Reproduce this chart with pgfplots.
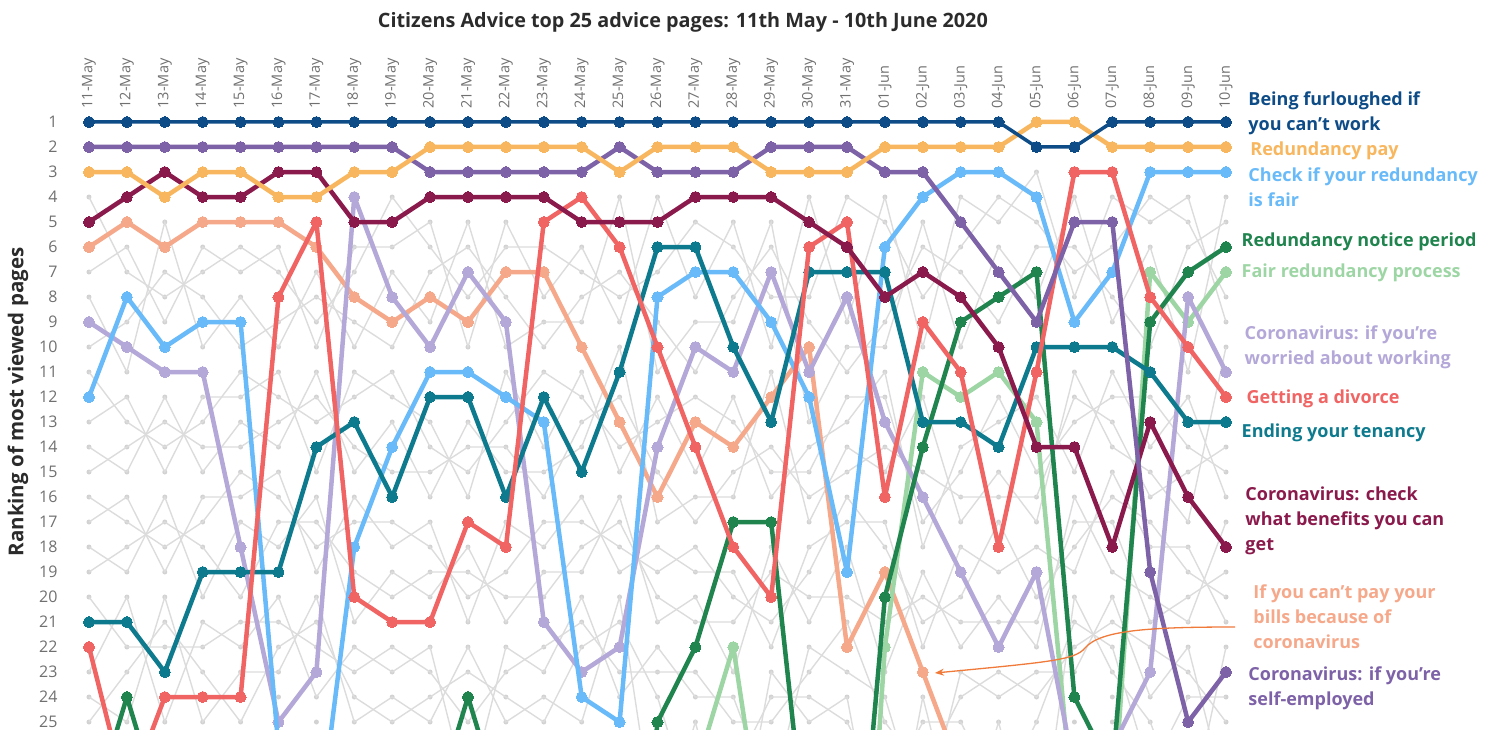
\documentclass[border=0pt]{standalone}
\usepackage{fontspec}
\setmainfont{Open Sans}
\usepackage{pgfplots}
\pgfplotsset{compat=1.18}
\usepackage{pgfplotstable}
\usetikzlibrary{arrows.meta}

\definecolor{cNavy}{HTML}{0E4C87}
\definecolor{cOrange}{HTML}{F8B65E}
\definecolor{cPurple}{HTML}{7E62A8}
\definecolor{cLBlue}{HTML}{69BAF8}
\definecolor{cLav}{HTML}{B4A8D8}
\definecolor{cRed}{HTML}{F06464}
\definecolor{cTeal}{HTML}{0E7A8E}
\definecolor{cMaroon}{HTML}{8B1A4C}
\definecolor{cDGreen}{HTML}{20844E}
\definecolor{cLGreen}{HTML}{9DD6A4}
\definecolor{cPeach}{HTML}{F6A88A}
\definecolor{cArrow}{HTML}{F07A3A}
\definecolor{cGrayLine}{HTML}{DCDCDC}
\definecolor{cGrayDot}{HTML}{D2D2D2}
\definecolor{cTick}{HTML}{707070}
\definecolor{cTitle}{HTML}{2B2B2B}

% d = day index (0 = 11 May ... 30 = 10 Jun); values = rank (>25 = outside the top 25)
% A furloughed, B redundancy pay, C self-employed, D check redundancy fair,
% E worried about working, F divorce, G ending tenancy, H benefits,
% I notice period, J fair redundancy process, K can't pay bills
\pgfplotstableread{
d  A  B  C  D  E  F  G  H  I  J  K
0  1  3  2 12  9 22 21  5 29 40  6
1  1  3  2  8 10 28 21  4 24 40  5
2  1  4  2 10 11 24 23  3 29 40  6
3  1  3  2  9 11 24 19  4 40 40  5
4  1  3  2  9 18 24 19  4 40 40  5
5  1  4  2 26 25  8 19  3 40 40  5
6  1  4  2 30 23  5 14  3 40 40  6
7  1  3  2 18  4 20 13  5 40 40  8
8  1  3  2 14  8 21 16  5 40 40  9
9  1  2  3 11 10 21 12  4 29 40  8
10 1  2  3 11  7 17 12  4 24 40  9
11 1  2  3 12  9 18 16  4 29 40  7
12 1  2  3 13 21  5 12  4 40 40  7
13 1  2  3 24 23  4 15  5 40 40 10
14 1  3  2 25 22  6 11  5 40 40 13
15 1  2  3  8 14 10  6  5 25 40 16
16 1  2  3  7 10 14  6  4 22 27 13
17 1  2  3  7 11 18 10  4 17 22 14
18 1  3  2  9  7 20 13  4 17 32 12
19 1  3  2 12 11  6  7  5 31 40 10
20 1  3  2 19  8  5  7  6 37 45 22
21 1  2  3  6 13 16  7  8 20 22 19
22 1  2  3  4 16  9 13  7 14 11 23
23 1  2  5  3 19 11 13  8  9 12 27
24 1  2  7  3 22 18 14 10  8 11 40
25 2  1  9  4 19 11 10 14  7 13 40
26 2  1  5  9 27  3 10 14 24 29 40
27 1  2  5  7 26  3 10 18 27 29 40
28 1  2 19  3 23  8 11 13  9  7 40
29 1  2 25  3  8 10 13 16  7  9 40
30 1  2 23  3 11 12 13 18  6  7 40
}\mainranks

% other pages (grey background lines)
\pgfplotstableread{
d g1 g2 g3 g4 g5 g6 g7 g8 g9 g10 g11 g12 g13 g14 g15 g16
0  4  7  8 10 11 13 14 15 16 17 18 19 20 23 24 25
1  7  6 11  9 13 12 15 14 17 16 19 18 22 20 25 23
2  8  9  5  7 14 15 12 13 18 19 16 17 22 25 20 21
3  7  6 10  8 13 12 15 14 17 16 20 18 22 21 25 23
4  6  7  8 10 11 12 13 14 15 16 17 20 21 22 23 25
5  7  6 10  9 12 11 14 13 16 15 18 17 21 20 23 22
6  9 10  7  8 13 15 11 12 18 19 16 17 22 24 20 21
7  7  6 10  9 12 11 15 14 17 16 21 19 23 22 25 24
8  4  6  7 10 11 12 13 15 17 18 19 20 22 23 24 25
9  6  5  9  7 14 13 16 15 18 17 20 19 23 22 25 24
10 8 10  5  6 15 16 13 14 20 21 18 19 25 28 22 23
11 6  5 10  8 13 11 15 14 19 17 21 20 23 22 25 24
12 6  8  9 10 11 14 15 16 17 18 19 20 22 23 24 25
13 7  6  9  8 12 11 14 13 17 16 19 18 21 20 25 22
14 8  9  4  7 14 15 10 12 18 19 16 17 23 24 20 21
15 7  4 11  9 13 12 17 15 19 18 21 20 23 22 30 24
16 5  8  9 11 12 15 16 17 18 19 20 21 23 24 25 29
17 6  5  9  8 13 12 16 15 20 19 23 21 25 24 31 27
18 8 10  5  6 15 16 11 14 21 22 18 19 25 28 23 24
19 8  4 13  9 15 14 17 16 19 18 21 20 23 22 25 24
20 4  9 10 11 12 13 14 15 16 17 18 20 21 23 24 25
21 5  4 10  9 12 11 15 14 18 17 23 21 25 24 32 28
22 8 10  5  6 17 18 12 15 21 22 19 20 27 29 24 25
23 6  4 10  7 15 14 17 16 20 18 22 21 24 23 30 25
24 4  5  6  9 12 13 15 16 17 19 20 21 23 24 25 28
25 5  3  8  6 15 12 17 16 20 18 22 21 24 23 31 25
26 7  8  4  6 13 15 11 12 18 19 16 17 22 23 20 21
27 6  4  9  8 12 11 14 13 16 15 19 17 21 20 23 22
28 4  5  6 10 12 14 15 16 17 18 20 21 22 24 25 27
29 5  4 11  6 14 12 17 15 19 18 21 20 23 22 29 24
30 8  9  4  5 15 16 10 14 20 21 17 19 25 28 22 24
}\grayranks

\pgfplotsset{
  hl/.style={line width=4.5pt, line join=round, color=#1, mark=*, mark size=5.5pt,
    mark options={fill=#1, draw=#1, line width=0pt}},
  gl/.style={line width=1.4pt, color=cGrayLine, no marks},
}
\newcommand{\lblfont}{\bfseries\fontsize{18}{25}\selectfont}

\begin{document}
\begin{tikzpicture}
\begin{axis}[
  x=37.9pt, y=25pt, y dir=reverse,
  xmin=-0.5, xmax=30.5, ymin=0.5, ymax=25.3,
  clip mode=individual,
  axis line style={draw=none},
  tick style={draw=none},
  xtick={0,...,30},
  xticklabels={11-May,12-May,13-May,14-May,15-May,16-May,17-May,18-May,19-May,20-May,21-May,22-May,23-May,24-May,25-May,26-May,27-May,28-May,29-May,30-May,31-May,01-Jun,02-Jun,03-Jun,04-Jun,05-Jun,06-Jun,07-Jun,08-Jun,09-Jun,10-Jun},
  xticklabel pos=upper,
  xticklabel style={rotate=90, anchor=west, inner sep=1pt, font=\fontsize{14.5}{16}\selectfont, text=cTick},
  ytick={1,...,25},
  yticklabel style={font=\fontsize{16}{18}\selectfont, text=cTick, xshift=-9pt},
  /pgf/number format/assume math mode=true,
  ymajorgrids,
  major grid style={draw=cGrayDot, line width=5pt, line cap=round,
    dash pattern=on 0pt off 37.9pt, dash phase=18.95pt},
]
% canvas
\path (axis cs:-2.348,-3.88) rectangle (axis cs:37.124,25.32);

\pgfplotsinvokeforeach{1,...,16}{
  \addplot[gl] table[x=d, y=g#1] {\grayranks};
}

\addplot[hl=cPeach]   table[x=d, y=K] {\mainranks};
\addplot[hl=cLGreen]  table[x=d, y=J] {\mainranks};
\addplot[hl=cLav]     table[x=d, y=E] {\mainranks};
\addplot[hl=cLBlue]   table[x=d, y=D] {\mainranks};
\addplot[hl=cDGreen]  table[x=d, y=I] {\mainranks};
\addplot[hl=cTeal]    table[x=d, y=G] {\mainranks};
\addplot[hl=cRed]     table[x=d, y=F] {\mainranks};
\addplot[hl=cMaroon]  table[x=d, y=H] {\mainranks};
\addplot[hl=cPurple]  table[x=d, y=C] {\mainranks};
\addplot[hl=cOrange]  table[x=d, y=B] {\mainranks};
\addplot[hl=cNavy, line width=3.5pt] table[x=d, y=A] {\mainranks};

% title and axis label
\node[font=\bfseries\fontsize{19.8}{22}\selectfont, text=cTitle] at (axis cs:15.67,-3.0)
  {Citizens Advice top 25 advice pages: 11th May - 10th June 2020};
\node[rotate=90, font=\bfseries\fontsize{20.5}{22}\selectfont, text=cTitle] at (axis cs:-1.873,12.2)
  {Ranking of most viewed pages};

% annotation arrow
\draw[cArrow, line width=1.3pt, -{Stealth[length=9pt,width=7pt]}]
  (axis cs:30.24,21.2) .. controls (axis cs:27.99,21.2) and (axis cs:26.68,21.32) ..
  (axis cs:26.28,22.04) .. controls (axis cs:26.02,22.52) and (axis cs:25.36,22.6) ..
  (axis cs:22.32,23.04);

% series labels
\node[anchor=west, align=left, font=\lblfont, text=cNavy]   at (axis cs:30.50,0.64) {Being furloughed if\\you can't work};
\node[anchor=west, align=left, font=\lblfont, text=cOrange] at (axis cs:30.55,2.16) {Redundancy pay};
\node[anchor=west, align=left, font=\lblfont, text=cLBlue]  at (axis cs:30.50,3.62) {Check if your redundancy\\is fair};
\node[anchor=west, align=left, font=\lblfont, text=cDGreen] at (axis cs:30.32,5.80) {Redundancy notice period};
\node[anchor=west, align=left, font=\lblfont, text=cLGreen] at (axis cs:30.32,7.04) {Fair redundancy process};
\node[anchor=west, align=left, font=\lblfont, text=cLav]    at (axis cs:30.40,10.02) {Coronavirus: if you're\\worried about working};
\node[anchor=west, align=left, font=\lblfont, text=cRed]    at (axis cs:30.45,12.08) {Getting a divorce};
\node[anchor=west, align=left, font=\lblfont, text=cTeal]   at (axis cs:30.32,13.44) {Ending your tenancy};
\node[anchor=west, align=left, font=\lblfont, text=cMaroon] at (axis cs:30.42,16.96) {Coronavirus: check\\what benefits you can\\get};
\node[anchor=west, align=left, font=\lblfont, text=cPeach]  at (axis cs:30.63,20.80) {If you can't pay your\\bills because of\\coronavirus};
\node[anchor=west, align=left, font=\lblfont, text=cPurple] at (axis cs:30.50,23.66) {Coronavirus: if you're\\self-employed};
\end{axis}
\end{tikzpicture}
\end{document}
